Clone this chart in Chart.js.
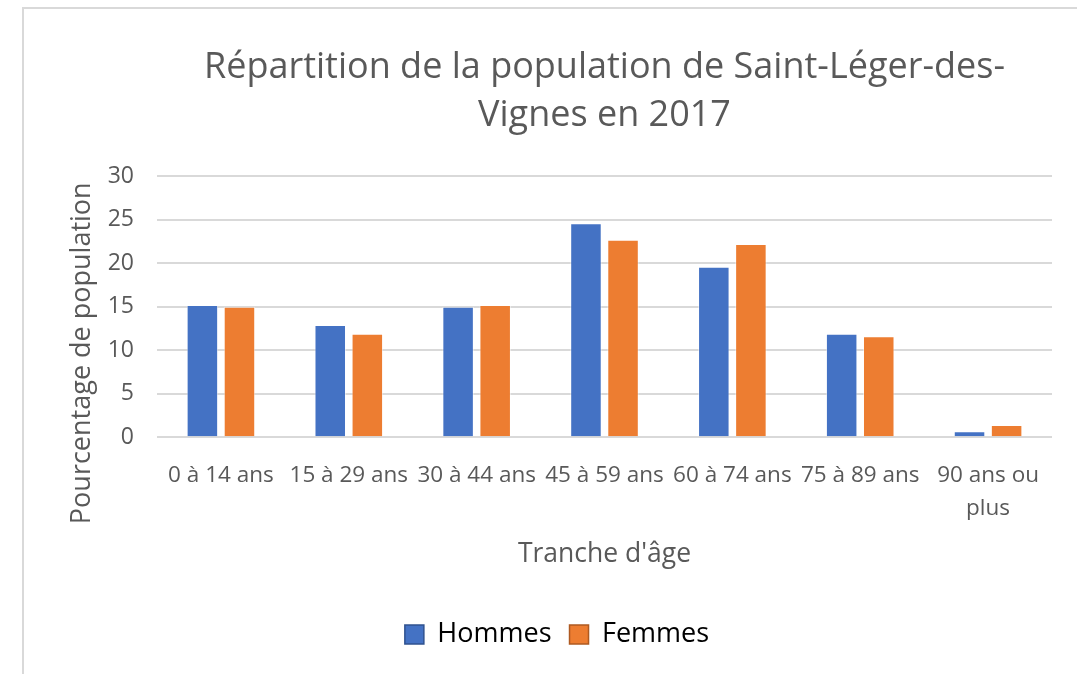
<!DOCTYPE html>
<html>
<head>
<meta charset="utf-8">
<script src="https://cdn.jsdelivr.net/npm/chart.js@4"></script>
<style>
	body { margin: 0; background: #fff; }
	#wrap { position: absolute; left: 0; top: 0; width: 1077px; height: 674px; }
	#frame { position: absolute; left: 22px; top: 7px; right: 0; bottom: 0; border-left: 2px solid #d9d9d9; border-top: 2px solid #d9d9d9; }
</style>
</head>
<body>
<div id="frame"></div>
<div id="wrap"><canvas id="graph"></canvas></div>
<script>
const categories = ['0 à 14 ans', '15 à 29 ans', '30 à 44 ans', '45 à 59 ans', '60 à 74 ans', '75 à 89 ans', ['90 ans ou', 'plus']]
const hommes = [15.2, 12.9, 15.0, 24.6, 19.6, 11.9, 0.7]
const femmes = [15.0, 11.9, 15.2, 22.7, 22.2, 11.6, 1.4]
const yTicks = [0, 5, 10, 15, 20, 25, 30]
const yTitle = 'Pourcentage de population'

const grey = '#595959'
const font = 'Open Sans'

let graphEl = document.getElementById('graph')

const legendBorders = ['#2f528f', '#ae5a21']

// excel puts the y title lower than the middle of the plot, so it is drawn by hand
const yTitlePlugin = {
	id: 'yTitle',
	afterDraw: chart => {
		const ctx = chart.ctx
		const area = chart.chartArea
		ctx.save()
		ctx.translate(area.left - 75, area.bottom - 84)
		ctx.rotate(-Math.PI / 2)
		ctx.font = '27px "' + font + '"'
		ctx.fillStyle = grey
		ctx.textAlign = 'center'
		ctx.textBaseline = 'middle'
		ctx.fillText(yTitle, 0, 0)
		ctx.restore()
	}
}

const data = {
	labels: categories,
	datasets: [{
		label: 'Hommes',
		data: hommes,
		backgroundColor: '#4472c4',
		borderColor: 'rgba(255,255,255,0.5)',
		borderWidth: 1
	}, {
		label: 'Femmes',
		data: femmes,
		backgroundColor: '#ed7d31',
		borderColor: 'rgba(255,255,255,0.5)',
		borderWidth: 1
	}]
}

const config = {
	type: 'bar',
	data: data,
	plugins: [yTitlePlugin],
	options: {
		responsive: true,
		maintainAspectRatio: false,
		animation: false,
		categoryPercentage: 0.58,
		barPercentage: 0.85,
		layout: {
			padding: { left: 62, right: 25, top: 0, bottom: 16 }
		},
		plugins: {
			title: {
				display: true,
				fullSize: false,
				text: ['Répartition de la population de Saint-Léger-des-', 'Vignes en 2017'],
				color: grey,
				font: { family: font, size: 36, weight: 'normal', lineHeight: 1.35 },
				padding: { top: 43, bottom: 36 }
			},
			legend: {
				position: 'bottom',
				labels: {
					color: '#1a1a1a',
					font: { family: font, size: 27 },
					boxWidth: 19,
					boxHeight: 19,
					padding: 18,
					generateLabels: chart => chart.data.datasets.map((ds, i) => ({
						text: ds.label,
						fillStyle: ds.backgroundColor,
						strokeStyle: legendBorders[i],
						lineWidth: 1.5,
						datasetIndex: i
					}))
				}
			},
			tooltip: { enabled: false }
		},
		scales: {
			x: {
				grid: { display: false },
				border: { display: false },
				ticks: {
					color: grey,
					font: { family: font, size: 22.5, lineHeight: 1.45 },
					maxRotation: 0,
					autoSkip: false,
					padding: 14
				},
				title: {
					display: true,
					text: "Tranche d'âge",
					color: grey,
					font: { family: font, size: 26.5, lineHeight: 1.0 },
					padding: { top: 3, bottom: 35 }
				}
			},
			y: {
				min: 0,
				max: 30,
				afterBuildTicks: scale => { scale.ticks = yTicks.map(v => ({ value: v })) },
				afterFit: scale => { scale.width = 95 },
				grid: { color: '#d9d9d9', lineWidth: 2, drawTicks: false },
				border: { display: false },
				ticks: {
					color: grey,
					font: { family: font, size: 23 },
					padding: 23
				}
			}
		}
	}
}

new Chart(graphEl, config)
</script>
</body>
</html>
